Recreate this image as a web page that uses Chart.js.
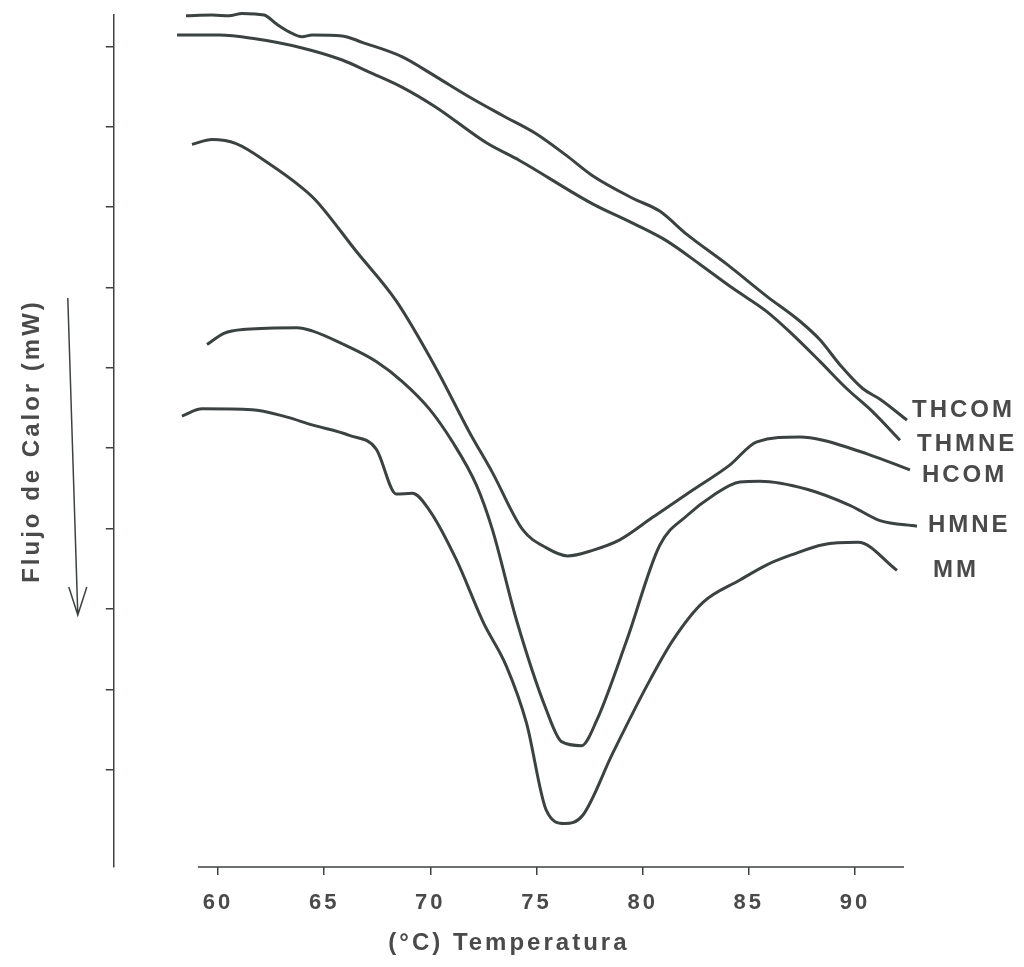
<!DOCTYPE html>
<html>
<head>
<meta charset="utf-8">
<script src="https://cdn.jsdelivr.net/npm/chart.js@4/dist/chart.umd.min.js"></script>
<style>
  html, body { margin: 0; padding: 0; background: #fff; }
  canvas { display: block; }
</style>
</head>
<body>
<canvas id="dsc" width="1024" height="967"></canvas>
<script>
// tick values (the y axis carries tick marks only, no numbers)
const xTickValues = [60, 65, 70, 75, 80, 85, 90]
const yTickValues = [1, 2, 3, 4, 5, 6, 7, 8, 9, 10]

const seriesNames = ['THCOM', 'THMNE', 'HCOM', 'HMNE', 'MM']

// temperature (°C) / heat flow (arbitrary mW units)
const thcomTemp = [58.49, 59.72, 60.52, 61.13, 62.17, 62.74, 63.35, 63.96, 64.43, 65.85, 66.79, 68.68, 70.28, 71.84, 73.40, 75.00, 76.42, 77.64, 79.53, 80.80, 82.08, 83.96, 85.85, 87.41, 88.35, 89.29, 90.38, 91.18, 92.45]
const thcomFlow = [10.38, 10.39, 10.38, 10.41, 10.39, 10.28, 10.18, 10.12, 10.14, 10.13, 10.05, 9.87, 9.62, 9.37, 9.14, 8.91, 8.64, 8.39, 8.11, 7.95, 7.66, 7.29, 6.89, 6.58, 6.35, 6.04, 5.74, 5.61, 5.35]

const thmneTemp = [58.07, 60.05, 61.60, 63.96, 65.85, 67.12, 68.68, 70.28, 72.64, 74.20, 77.64, 79.53, 81.13, 82.69, 84.25, 85.85, 87.08, 88.35, 89.62, 90.85, 92.12]
const thmneFlow = [10.14, 10.14, 10.10, 9.98, 9.83, 9.68, 9.49, 9.24, 8.80, 8.58, 8.04, 7.80, 7.58, 7.29, 6.99, 6.70, 6.41, 6.08, 5.74, 5.45, 5.10]

const hcomTemp = [58.77, 59.72, 60.85, 62.41, 63.96, 64.62, 66.51, 68.40, 70.28, 71.84, 72.92, 74.34, 75.47, 76.46, 77.64, 78.92, 80.47, 82.36, 84.10, 85.38, 87.41, 88.49, 90.57, 92.59]
const hcomFlow = [8.78, 8.84, 8.79, 8.54, 8.24, 8.08, 7.45, 6.83, 5.99, 5.20, 4.70, 3.99, 3.76, 3.66, 3.73, 3.86, 4.14, 4.48, 4.79, 5.08, 5.14, 5.10, 4.93, 4.73]

const hmneTemp = [59.48, 60.28, 61.32, 63.73, 64.43, 65.85, 67.45, 68.68, 69.95, 71.04, 72.17, 72.92, 74.06, 75.47, 76.18, 77.12, 77.83, 79.25, 80.80, 82.08, 83.30, 84.58, 85.52, 87.74, 89.76, 91.18, 92.92]
const hmneFlow = [6.29, 6.43, 6.48, 6.50, 6.46, 6.30, 6.08, 5.83, 5.49, 5.08, 4.54, 3.99, 2.86, 1.74, 1.35, 1.30, 1.61, 2.61, 3.79, 4.16, 4.41, 4.58, 4.59, 4.49, 4.29, 4.10, 4.03]

const mmTemp = [58.30, 59.25, 61.60, 63.21, 64.43, 66.18, 67.45, 68.40, 69.15, 69.95, 71.23, 72.50, 73.58, 74.53, 75.47, 76.32, 77.17, 78.58, 80.19, 81.42, 82.83, 84.58, 85.85, 87.08, 88.49, 90.14, 91.98]
const mmFlow = [5.40, 5.49, 5.48, 5.39, 5.29, 5.16, 4.99, 4.43, 4.44, 4.23, 3.61, 2.83, 2.29, 1.58, 0.49, 0.33, 0.43, 1.20, 2.04, 2.61, 3.08, 3.36, 3.55, 3.68, 3.80, 3.83, 3.48]

const seriesTemp = [thcomTemp, thmneTemp, hcomTemp, hmneTemp, mmTemp]
const seriesFlow = [thcomFlow, thmneFlow, hcomFlow, hmneFlow, mmFlow]

// label placement next to each curve end (px)
const labelOffsets = [[5, -10], [17, 4], [12, 5], [11, -1], [36, 0]]

const ink = '#3c4242'
const textInk = '#4a4a4a'
const font = 'Liberation Sans, Arial, sans-serif'

const toPoints = (temps, flows) => temps.map((t, i) => ({ x: t, y: flows[i] }))

const datasets = seriesNames.map((name, i) => ({
  label: name,
  data: toPoints(seriesTemp[i], seriesFlow[i]),
  borderColor: ink,
  borderWidth: 3,
  pointRadius: 0,
  cubicInterpolationMode: 'monotone',
  clip: false,
  fill: false,
}))

// spaced-out lettering like the scanned original
const letterSpacing = {
  id: 'letterSpacing',
  beforeDraw(chart) {
    chart.ctx.letterSpacing = '3px'
  },
}

// curve names at the right end of each trace
const curveLabels = {
  id: 'curveLabels',
  afterDatasetsDraw(chart) {
    const { ctx } = chart
    ctx.save()
    ctx.letterSpacing = '3px'
    ctx.font = `bold 24px ${font}`
    ctx.fillStyle = textInk
    ctx.textAlign = 'left'
    ctx.textBaseline = 'middle'
    chart.data.datasets.forEach((ds, i) => {
      const pts = chart.getDatasetMeta(i).data
      const last = pts[pts.length - 1]
      const [dx, dy] = labelOffsets[i]
      ctx.fillText(ds.label, last.x + dx, last.y + dy)
    })
    ctx.restore()
  },
}

// x axis line starts a bit left of 60, plus the downward arrow beside the y title
const axisDecor = {
  id: 'axisDecor',
  afterDraw(chart) {
    const { ctx, chartArea, scales: { x } } = chart
    ctx.save()
    ctx.strokeStyle = ink
    ctx.lineWidth = 1.5
    ctx.beginPath()
    ctx.moveTo(x.getPixelForValue(59.05), chartArea.bottom)
    ctx.lineTo(chartArea.right, chartArea.bottom)
    ctx.stroke()

    const ax0 = chartArea.left - 46
    const ax1 = chartArea.left - 36
    const top = chartArea.top + 283
    const tip = chartArea.top + 600
    ctx.beginPath()
    ctx.moveTo(ax0, top)
    ctx.lineTo(ax1, tip)
    ctx.moveTo(ax1 - 9, tip - 28)
    ctx.lineTo(ax1, tip)
    ctx.lineTo(ax1 + 9, tip - 28)
    ctx.stroke()
    ctx.restore()
  },
}

new Chart(document.getElementById('dsc'), {
  type: 'line',
  data: { datasets },
  plugins: [letterSpacing, curveLabels, axisDecor],
  options: {
    responsive: false,
    animation: false,
    layout: { padding: { left: 5, right: 120, top: 15, bottom: 10 } },
    plugins: { legend: { display: false }, tooltip: { enabled: false } },
    scales: {
      x: {
        type: 'linear',
        min: 55.09,
        max: 92.31,
        afterBuildTicks: (scale) => { scale.ticks = xTickValues.map((v) => ({ value: v })) },
        border: { display: false },
        grid: { drawOnChartArea: false, drawTicks: true, tickLength: 8, color: ink, lineWidth: 1.5 },
        ticks: {
          color: textInk,
          padding: 17,
          maxRotation: 0,
          autoSkip: false,
          font: { family: font, size: 22, weight: 'bold', lineHeight: 1 },
        },
        title: {
          display: true,
          text: '(°C) Temperatura',
          color: textInk,
          padding: { top: 0, bottom: 2 },
          font: { family: font, size: 24, weight: 'bold', lineHeight: 1 },
        },
      },
      y: {
        type: 'linear',
        min: -0.21,
        max: 10.39,
        afterBuildTicks: (scale) => { scale.ticks = yTickValues.map((v) => ({ value: v })) },
        border: { display: true, color: ink, width: 1.5 },
        grid: { drawOnChartArea: false, drawTicks: true, tickLength: 8, color: ink, lineWidth: 1.5 },
        ticks: { display: false },
        title: {
          display: true,
          text: 'Flujo de Calor (mW)',
          color: textInk,
          padding: { top: 13, bottom: 59 },
          font: { family: font, size: 24, weight: 'bold' },
        },
      },
    },
  },
})
</script>
</body>
</html>
